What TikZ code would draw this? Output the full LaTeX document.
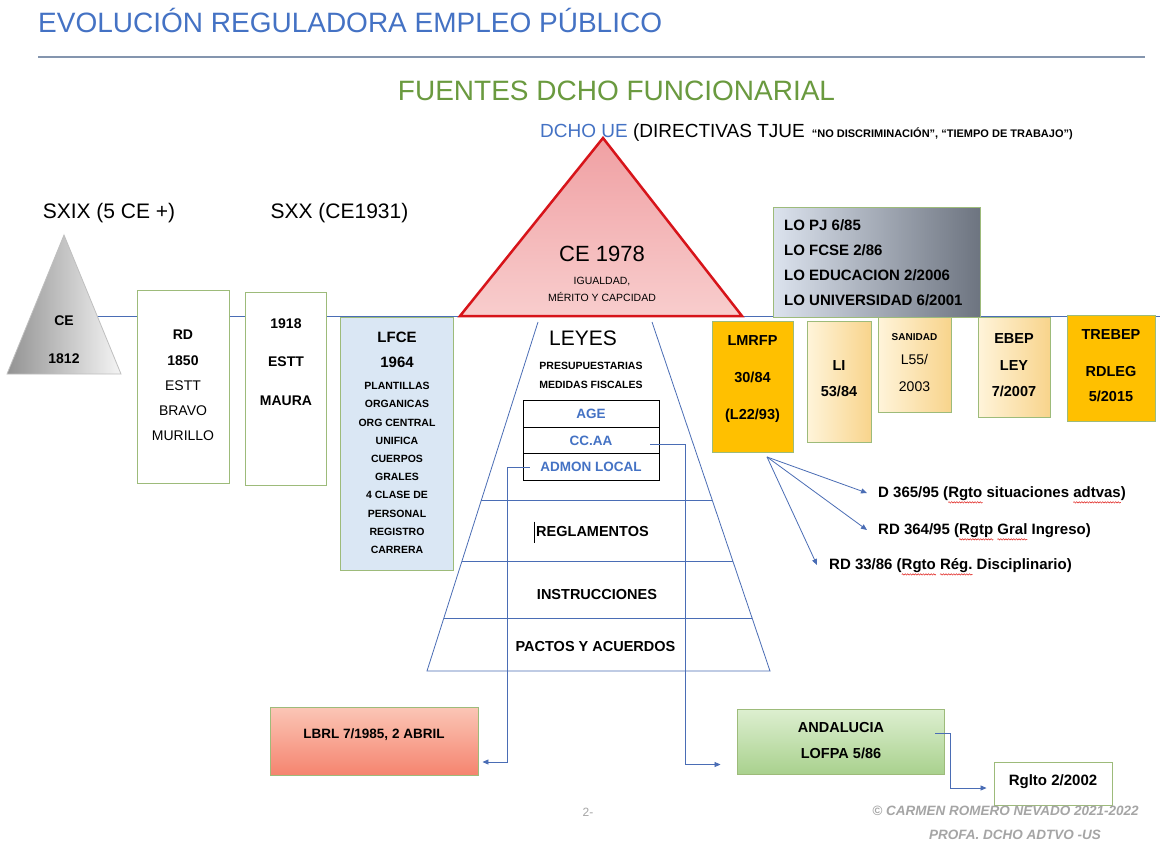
\documentclass[tikz,border=0pt]{standalone}
\usepackage{fontspec}
\setmainfont{Liberation Sans}
\usetikzlibrary{arrows.meta,calc,decorations.pathmorphing}
\definecolor{titleblue}{HTML}{4472C4}
\definecolor{fgreen}{HTML}{6A9A3F}
\definecolor{ruleblue}{HTML}{8495AE}
\definecolor{lineblue}{HTML}{4A6DB5}
\definecolor{boxgreen}{HTML}{9DBB7A}
\definecolor{orng}{HTML}{FFC000}
\definecolor{lorange1}{HTML}{FFF4DA}
\definecolor{lorange2}{HTML}{F8D48C}
\definecolor{cered}{HTML}{D7141A}
\definecolor{cepink1}{HTML}{F0A0A3}
\definecolor{cepink2}{HTML}{F8CDCD}
\definecolor{lfceblue}{HTML}{DAE7F4}
\definecolor{footgray}{HTML}{A5A5A5}
\definecolor{lbrl1}{HTML}{FBC6B6}
\definecolor{lbrl2}{HTML}{F5846F}
\definecolor{and1}{HTML}{DDEFD0}
\definecolor{and2}{HTML}{A9D18E}
\definecolor{lo1}{HTML}{DCE3EE}
\definecolor{lo2}{HTML}{6D7480}
\definecolor{wavered}{HTML}{E0201C}
\newsavebox\wvbox
\newlength\wvlen
\newcommand\redwave[1]{\sbox\wvbox{#1}\setlength\wvlen{\wd\wvbox}\rlap{\tikz[overlay]\draw[wavered,line width=0.5pt,decorate,decoration={snake,amplitude=0.7pt,segment length=2.6pt}] (0pt,-4.5pt) -- (\wvlen,-4.5pt);}\usebox\wvbox}
\newcommand\fsz[2]{\fontsize{#1}{#2}\selectfont}
\tikzset{
  box/.style={draw=boxgreen, line width=0.9pt, fill=white, inner sep=0pt},
  txt/.style={inner sep=0pt, align=center},
  conn/.style={draw=lineblue, line width=0.8pt},
  arr/.style={conn, -{Triangle[length=6pt,width=5pt]}},
  trap/.style={draw=lineblue, line width=0.8pt},
  cell/.style={draw=black, line width=0.8pt, fill=white, minimum width=136pt, minimum height=26.5pt, inner sep=0pt, text=titleblue, font=\fsz{13.5}{16}\bfseries},
  bigb/.style={txt, font=\fsz{14.5}{16}\bfseries},
  reftext/.style={anchor=west, inner sep=0pt, font=\fsz{15}{16}\bfseries},
  foot/.style={inner sep=0pt, text=footgray, font=\fsz{13.5}{16}\bfseries\itshape}
}
\begin{document}
\begin{tikzpicture}[x=1pt,y=-1pt]
\useasboundingbox (0,0) rectangle (1172,857);
\fill[white] (0,0) rectangle (1172,857);

% titles
\node[anchor=base west, inner sep=0pt, text=titleblue, font=\fsz{28}{30}] (title) at (38,32) {EVOLUCIÓN REGULADORA EMPLEO PÚBLICO};
\coordinate (rulel) at (38,57);
\coordinate (ruler) at (1145,57);
\draw[ruleblue, line width=1.3pt] (rulel) -- (ruler);
\node[anchor=base, inner sep=0pt, text=fgreen, font=\fsz{28}{30}] (fuentes) at (616.5,100) {FUENTES DCHO FUNCIONARIAL};
\node[anchor=base west, inner sep=0pt, font=\fsz{19}{22}] (ue) at (540,137) {\textcolor{titleblue}{DCHO UE} (DIRECTIVAS TJUE\hspace{7pt}{\fsz{11}{12}\bfseries “NO DISCRIMINACIÓN”, “TIEMPO DE TRABAJO”)}};

\node[anchor=base, inner sep=0pt, font=\fsz{21}{24}] (sxix) at (109,218) {SXIX (5 CE +)};
\node[anchor=base, inner sep=0pt, font=\fsz{21}{24}] (sxx) at (339.5,218) {SXX (CE1931)};

% main horizontal lines
\coordinate (t1r) at (97,316);
\coordinate (t2l) at (460,316);
\coordinate (t2r) at (742,316);
\coordinate (lineend) at (1160,316);
\draw[conn] (t1r) -- (t2l);
\draw[conn] (t2r) -- (lineend);

% left triangle CE 1812
\coordinate (t1a) at (64,235);
\coordinate (t1bl) at (7,374);
\coordinate (t1br) at (121,374);
\path[draw=gray!50, line width=0.8pt, left color=gray!85, right color=gray!8] (t1a) -- (t1br) -- (t1bl) -- cycle;
\node[txt, font=\fsz{14}{16}\bfseries] (ce1812a) at (64,321) {CE};
\node[txt, font=\fsz{14}{16}\bfseries] (ce1812b) at (64,359) {1812};

% RD 1850
\node[box, minimum width=92pt, minimum height=193pt] (rd) at (183,386.5) {};
\node[txt, font=\fsz{14}{25.2}] (rdt) at (183,385.5) {\textbf{RD}\\\textbf{1850}\\ESTT\\BRAVO\\MURILLO};

% 1918
\node[box, minimum width=81pt, minimum height=193pt] (b1918) at (286,388.5) {};
\node[txt, font=\fsz{14}{38.3}\bfseries] (b1918t) at (286,362) {1918\\ESTT\\MAURA};

% LFCE
\node[box, fill=lfceblue, minimum width=113pt, minimum height=253pt] (lfce) at (397,443.5) {};
\node[txt, font=\fsz{15}{25}\bfseries] (lfcet) at (397,349.5) {LFCE\\1964};
\node[txt, font=\fsz{10.5}{18.2}\bfseries] (lfcel) at (397,468) {PLANTILLAS\\ORGANICAS\\ORG CENTRAL\\UNIFICA\\CUERPOS\\GRALES\\4 CLASE DE\\PERSONAL\\REGISTRO\\CARRERA};

% CE 1978 triangle
\coordinate (t2a) at (603,138);
\path[draw=cered, line width=2.5pt, top color=cepink1, bottom color=cepink2] (t2a) -- (t2r) -- (t2l) -- cycle;
\node[txt, font=\fsz{22}{24}] (ce78) at (602,254) {CE 1978};
\node[txt, font=\fsz{10.5}{17}] (ce78b) at (602,289.5) {IGUALDAD,\\MÉRITO Y CAPCIDAD};

% pyramid
\coordinate (ptl) at (538,322);
\coordinate (pbl) at (427,671);
\coordinate (ptr) at (652,322);
\coordinate (pbr) at (770,671);
\draw[trap] (ptl) -- (pbl) -- (pbr) -- (ptr);
\draw[trap] ($(ptl)!0.51!(pbl)$) -- ($(ptr)!0.51!(pbr)$);
\draw[trap] ($(ptl)!0.685!(pbl)$) -- ($(ptr)!0.685!(pbr)$);
\draw[trap] ($(ptl)!0.848!(pbl)$) -- ($(ptr)!0.848!(pbr)$);

\node[txt, font=\fsz{21}{24}] (leyes) at (583,338) {LEYES};
\node[txt, font=\fsz{10.5}{19}\bfseries] (presu) at (591,375.5) {PRESUPUESTARIAS\\MEDIDAS FISCALES};
\node[cell] (age) at (591,414) {AGE};
\node[cell] (ccaa) at (591,440.5) {CC.AA};
\node[cell] (admon) at (591,467) {ADMON LOCAL};
\node[bigb] (regl) at (592.5,531.5) {REGLAMENTOS};
\draw[black, line width=0.8pt] ($(regl.west)+(-2,-10)$) -- ($(regl.west)+(-2,11)$);
\node[bigb] (instr) at (597,594) {INSTRUCCIONES};
\node[bigb] (pactos) at (595.5,646) {PACTOS Y ACUERDOS};

% bottom boxes
\node[box, top color=lbrl1, bottom color=lbrl2, minimum width=208pt, minimum height=68pt] (lbrl) at (374,741) {};
\node[txt, font=\fsz{13.5}{16}\bfseries] (lbrlt) at (374,734.5) {LBRL 7/1985, 2 ABRIL};
\node[box, top color=and1, bottom color=and2, minimum width=207pt, minimum height=65pt] (andal) at (840.5,741.5) {};
\node[txt, font=\fsz{14.5}{26}\bfseries] (andalt) at (841,741) {ANDALUCIA\\LOFPA 5/86};
\node[box, minimum width=118pt, minimum height=43pt] (rglto) at (1053,783.5) {};
\node[txt, font=\fsz{15}{16}\bfseries] (rgltot) at (1053,782) {Rglto 2/2002};

% connectors from the table
\draw[arr] ($(ccaa.east)+(-9,4)$) -| ($(andal.west)+(-51,23)$) -- ($(andal.west)+(-16,23)$);
\draw[arr] ($(admon.west)+(7,0)$) -| ($(lbrl.east)+(29,21)$) -- ($(lbrl.east)+(4,21)$);
\draw[arr] ($(andal.east)+(-9,-8.5)$) -| ($(rglto.west)+(-43,4.5)$) -- ($(rglto.west)+(-7,4.5)$);

% right group
\node[box, left color=lo1, right color=lo2, minimum width=207pt, minimum height=110pt] (lo) at (876.5,262) {};
\node[txt, align=left, anchor=west, font=\fsz{15}{25}\bfseries] (lot) at (784,262.5) {LO PJ 6/85\\LO FCSE 2/86\\LO EDUCACION 2/2006\\LO UNIVERSIDAD 6/2001};

\node[box, fill=orng, minimum width=81pt, minimum height=131pt] (lmrfp) at (752.5,386.5) {};
\node[txt, font=\fsz{14.5}{37}\bfseries] (lmrfpt) at (752.5,379) {LMRFP\\30/84\\(L22/93)};

\node[box, left color=lorange1, right color=lorange2, minimum width=64pt, minimum height=121pt] (li) at (839,381.5) {};
\node[txt, font=\fsz{14.5}{26}\bfseries] (lit) at (839,379) {LI\\53/84};

\node[box, left color=lorange1, right color=lorange2, minimum width=73pt, minimum height=95pt] (san) at (914.5,364.5) {};
\node[txt, font=\fsz{10}{12}\bfseries] (sant) at (914.5,337) {SANIDAD};
\node[txt, font=\fsz{14}{27}] (sanl) at (914.5,372.5) {L55/\\2003};

\node[box, left color=lorange1, right color=lorange2, minimum width=72pt, minimum height=100pt] (ebep) at (1014,367) {};
\node[txt, font=\fsz{14.5}{26.5}\bfseries] (ebept) at (1014,365.5) {EBEP\\LEY\\7/2007};

\node[box, fill=orng, minimum width=88pt, minimum height=106pt] (trebep) at (1111,368) {};
\node[txt, font=\fsz{14.5}{16}\bfseries] (trebept) at (1111,335) {TREBEP};
\node[txt, font=\fsz{14.5}{25}\bfseries] (trebepl) at (1111,384.5) {RDLEG\\5/2015};

% reglamentos from LMRFP
\coordinate (lmo) at ($(lmrfp.south)+(14.5,4.5)$);
\node[reftext] (d365) at (878,494) {D 365/95 (\redwave{Rgto} situaciones \redwave{adtvas})};
\node[reftext] (rd364) at (878,531) {RD 364/95 (\redwave{Rgtp} \redwave{Gral} Ingreso)};
\node[reftext] (rd33) at (829,566) {RD 33/86 (\redwave{Rgto} \redwave{Rég.} Disciplinario)};
\draw[arr] (lmo) -- ($(d365.west)+(-11,-1)$);
\draw[arr] (lmo) -- ($(rd364.west)+(-11,-1)$);
\draw[arr] (lmo) -- ($(rd33.west)+(-12,-1)$);

% footer
\node[inner sep=0pt, text=footgray, font=\fsz{12}{14}] (pnum) at (588,812) {2-};
\node[foot] (copy) at (1005.5,811) {© CARMEN ROMERO NEVADO 2021-2022};
\node[foot] (profa) at (1015,835) {PROFA. DCHO ADTVO -US};
\end{tikzpicture}
\end{document}
